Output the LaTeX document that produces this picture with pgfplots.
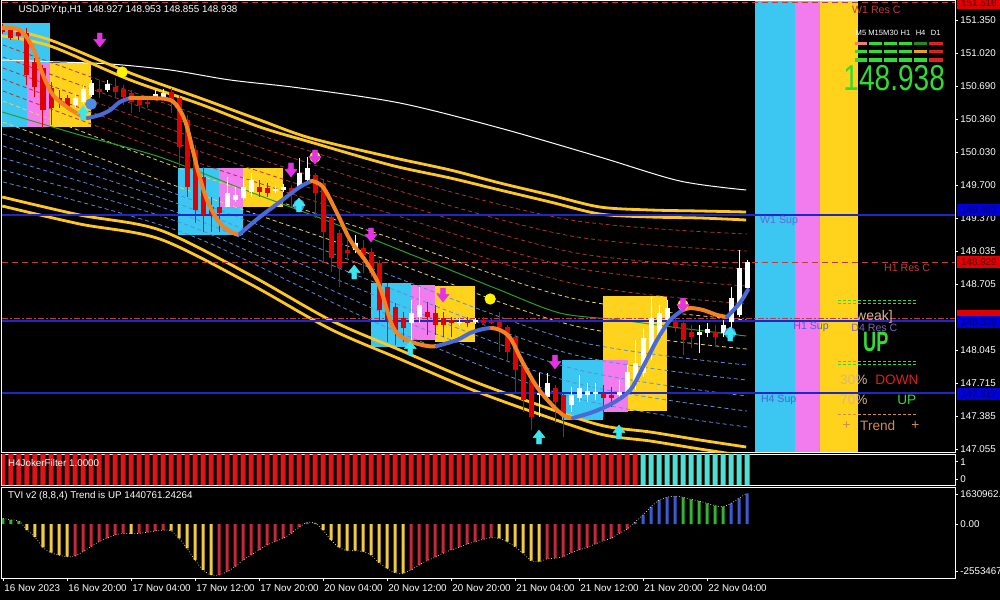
\documentclass[border=0pt]{standalone}
\usepackage{pgfplots}
\pgfplotsset{compat=1.18}
\usepackage{pgfplotstable}
\usepackage{fontspec}
\setmainfont{Liberation Sans}
\usepackage{graphicx}

\definecolor{bcyan}{HTML}{3CC6F2}
\definecolor{bmag}{HTML}{F27CEE}
\definecolor{byel}{HTML}{FFD21C}
\definecolor{cred}{HTML}{E00000}
\definecolor{hmaor}{HTML}{F58220}
\definecolor{hmabl}{HTML}{4A6AD8}
\definecolor{chy}{HTML}{FFC81E}
\definecolor{dred}{HTML}{B03434}
\definecolor{dblu}{HTML}{5A8CD8}
\definecolor{dyel}{HTML}{E6D264}
\definecolor{chgreen}{HTML}{28A028}
\definecolor{hblue}{HTML}{1E28C8}
\definecolor{hred}{HTML}{C03C3C}
\definecolor{arrmag}{HTML}{E632E6}
\definecolor{arrcy}{HTML}{3CE6F0}
\definecolor{dotblue}{HTML}{4A8CE6}
\definecolor{limeg}{HTML}{32DC32}
\definecolor{tanc}{HTML}{D8B48C}
\definecolor{trendc}{HTML}{D28C50}
\definecolor{jred}{HTML}{E01414}
\definecolor{jcyan}{HTML}{50E0D2}
\definecolor{tyel}{HTML}{F0CC3C}
\definecolor{tred}{HTML}{C8283C}
\definecolor{tblue}{HTML}{3C5AD2}
\definecolor{tgreen}{HTML}{32B432}
\definecolor{tline}{HTML}{FFF0B4}
\definecolor{salmonc}{HTML}{F08070}
\definecolor{dkgreen}{HTML}{1E8C1E}
\definecolor{stor}{HTML}{E6A01E}
\definecolor{stred}{HTML}{E02020}
\definecolor{d4c}{HTML}{8264BE}

\newcommand\mt{\fontsize{4.9}{5.5}\selectfont}
\newcommand\mtb{\fontsize{5.3}{6}\selectfont}

% arrow marks with a stem
\pgfdeclareplotmark{darr}{%
  \pgfpathmoveto{\pgfqpoint{-1.2pt}{3.5pt}}%
  \pgfpathlineto{\pgfqpoint{1.2pt}{3.5pt}}%
  \pgfpathlineto{\pgfqpoint{1.2pt}{0.3pt}}%
  \pgfpathlineto{\pgfqpoint{3pt}{0.3pt}}%
  \pgfpathlineto{\pgfqpoint{0pt}{-3.5pt}}%
  \pgfpathlineto{\pgfqpoint{-3pt}{0.3pt}}%
  \pgfpathlineto{\pgfqpoint{-1.2pt}{0.3pt}}%
  \pgfpathclose\pgfusepathqfillstroke}
\pgfdeclareplotmark{uarr}{%
  \pgfpathmoveto{\pgfqpoint{-1.2pt}{-3.5pt}}%
  \pgfpathlineto{\pgfqpoint{1.2pt}{-3.5pt}}%
  \pgfpathlineto{\pgfqpoint{1.2pt}{-0.3pt}}%
  \pgfpathlineto{\pgfqpoint{3pt}{-0.3pt}}%
  \pgfpathlineto{\pgfqpoint{0pt}{3.5pt}}%
  \pgfpathlineto{\pgfqpoint{-3pt}{-0.3pt}}%
  \pgfpathlineto{\pgfqpoint{-1.2pt}{-0.3pt}}%
  \pgfpathclose\pgfusepathqfillstroke}

\pgfplotstableread{
i o h l c
0 151.28 151.31 151.21 151.23
1 151.26 151.28 151.15 151.17
2 151.23 151.25 151.15 151.19
3 151.22 151.27 150.70 150.80
4 150.93 150.97 150.58 150.68
5 150.87 150.90 150.27 150.45
6 150.67 150.73 150.30 150.47
7 150.57 150.65 150.47 150.54
8 150.57 150.60 150.45 150.47
12 150.66 150.75 150.57 150.63
14 150.68 150.77 150.58 150.63
15 150.66 150.70 150.50 150.58
16 150.62 150.65 150.42 150.53
17 150.55 150.59 150.43 150.50
18 150.53 150.56 150.47 150.51
21 150.63 150.67 150.42 150.55
22 150.57 150.60 149.88 150.08
23 150.35 150.40 149.58 149.68
24 150.05 150.10 149.32 149.45
25 149.78 149.88 149.23 149.40
26 149.48 149.58 149.23 149.40
27 149.48 149.58 149.23 149.42
32 149.68 149.75 149.58 149.63
33 149.67 149.72 149.58 149.62
36 149.67 149.70 149.48 149.62
39 149.80 149.82 149.37 149.62
40 149.72 149.75 148.92 149.23
41 149.38 149.40 148.83 148.97
42 149.22 149.25 148.68 148.87
43 149.05 149.15 148.95 149.02
45 149.07 149.15 148.82 149.00
46 149.03 149.07 148.78 148.82
47 148.92 148.95 148.35 148.45
48 148.68 148.72 148.13 148.35
49 148.48 148.52 148.10 148.25
50 148.37 148.43 148.13 148.27
53 148.43 148.53 148.20 148.38
54 148.42 148.50 148.20 148.30
55 148.37 148.43 148.18 148.30
56 148.35 148.38 148.18 148.32
58 148.34 148.38 148.28 148.32
60 148.35 148.38 148.30 148.32
61 148.33 148.37 148.31 148.32
62 148.33 148.43 148.03 148.28
63 148.28 148.30 147.93 148.03
64 148.18 148.20 147.63 147.85
65 147.92 147.95 147.43 147.55
66 147.75 147.80 147.25 147.38
69 147.67 147.70 147.32 147.53
70 147.60 147.63 147.18 147.40
75 147.62 147.70 147.38 147.57
76 147.60 147.68 147.48 147.57
84 148.33 148.38 148.23 148.28
85 148.32 148.33 148.00 148.15
86 148.23 148.30 148.07 148.18
89 148.23 148.30 148.08 148.18
}\bear

\pgfplotstableread{
i o h l c
9 150.50 150.62 150.47 150.57
10 150.53 150.70 150.51 150.66
11 150.60 150.75 150.58 150.72
13 150.65 150.75 150.63 150.71
19 150.58 150.65 150.55 150.61
20 150.58 150.66 150.55 150.62
28 149.48 149.78 149.48 149.62
29 149.55 149.68 149.53 149.60
30 149.57 149.78 149.55 149.68
31 149.63 149.82 149.58 149.75
34 149.64 149.69 149.62 149.66
35 149.65 149.71 149.63 149.68
37 149.68 149.97 149.67 149.82
38 149.75 149.98 149.73 149.87
44 149.05 149.20 149.02 149.12
51 148.32 148.55 148.12 148.42
52 148.38 148.68 148.32 148.50
57 148.32 148.37 148.29 148.33
59 148.33 148.37 148.31 148.35
67 147.60 147.82 147.38 147.62
68 147.58 147.82 147.52 147.72
71 147.50 147.68 147.43 147.60
72 147.57 147.80 147.53 147.67
73 147.60 147.72 147.53 147.64
74 147.61 147.72 147.55 147.63
77 147.60 147.75 147.55 147.63
78 147.63 147.90 147.60 147.83
79 147.72 148.15 147.65 147.92
80 147.82 148.27 147.78 148.17
81 148.05 148.58 147.95 148.37
82 148.18 148.50 148.15 148.42
83 148.35 148.55 148.30 148.47
87 148.20 148.30 148.02 148.23
88 148.22 148.32 148.18 148.26
90 148.22 148.35 148.18 148.30
91 148.33 148.68 148.27 148.57
92 148.40 149.05 148.38 148.87
93 148.67 148.95 148.65 148.93
}\bull

\pgfplotstableread{
i v
0 0.31
1 0.22
2 0.16
3 -0.33
4 -0.72
5 -1.27
6 -1.56
7 -1.69
8 -1.78
9 -1.74
10 -1.50
11 -1.23
12 -0.96
13 -0.78
14 -0.60
15 -0.51
16 -0.54
17 -0.51
18 -0.45
19 -0.38
20 -0.33
21 -0.36
22 -0.78
23 -1.32
24 -1.96
25 -2.50
26 -2.77
27 -2.77
28 -2.59
29 -2.32
30 -1.96
31 -1.69
32 -1.41
33 -1.14
34 -0.96
35 -0.78
36 -0.51
37 -0.18
38 0.08
39 0.05
40 -0.33
41 -0.87
42 -1.27
43 -1.45
44 -1.45
45 -1.50
46 -1.69
47 -2.10
48 -2.41
49 -2.65
50 -2.68
51 -2.50
52 -2.23
53 -1.99
54 -1.81
55 -1.59
56 -1.41
57 -1.27
58 -1.09
59 -0.96
60 -0.83
61 -0.74
62 -0.78
63 -0.96
64 -1.23
65 -1.59
66 -1.99
67 -2.05
68 -1.90
69 -1.86
70 -1.78
71 -1.56
72 -1.41
73 -1.27
74 -1.09
75 -0.91
76 -0.78
77 -0.51
78 -0.29
79 0.10
80 0.49
81 0.94
82 1.30
83 1.45
84 1.52
85 1.45
86 1.34
87 1.25
88 1.12
89 1.00
90 0.94
91 1.12
92 1.40
93 1.67
}\tvi

\pgfplotstableread{
i v
3 -0.33
4 -0.72
5 -1.27
6 -1.56
7 -1.69
8 -1.78
16 -0.54
21 -0.36
22 -0.78
23 -1.32
24 -1.96
25 -2.50
26 -2.77
40 -0.33
41 -0.87
42 -1.27
43 -1.45
44 -1.45
45 -1.50
46 -1.69
47 -2.10
48 -2.41
49 -2.65
50 -2.68
62 -0.78
63 -0.96
64 -1.23
65 -1.59
66 -1.99
67 -2.05
}\tviyel

\pgfplotstableread{
i v
9 -1.74
10 -1.50
11 -1.23
12 -0.96
13 -0.78
14 -0.60
15 -0.51
17 -0.51
18 -0.45
19 -0.38
20 -0.33
27 -2.77
28 -2.59
29 -2.32
30 -1.96
31 -1.69
32 -1.41
33 -1.14
34 -0.96
35 -0.78
36 -0.51
37 -0.18
51 -2.50
52 -2.23
53 -1.99
54 -1.81
55 -1.59
56 -1.41
57 -1.27
58 -1.09
59 -0.96
60 -0.83
61 -0.74
68 -1.90
69 -1.86
70 -1.78
71 -1.56
72 -1.41
73 -1.27
74 -1.09
75 -0.91
76 -0.78
77 -0.51
78 -0.29
}\tvired

\pgfplotstableread{
i v
38 0.08
79 0.10
80 0.49
81 0.94
82 1.30
83 1.45
84 1.52
91 1.12
92 1.40
93 1.67
}\tviblue

\pgfplotstableread{
i v
0 0.31
1 0.22
2 0.16
39 0.05
85 1.45
86 1.34
87 1.25
88 1.12
89 1.00
90 0.94
}\tvigreen

\newcommand\sbar[5]{\fill[#5] (axis cs:#1,#3) rectangle (axis cs:#2,#4);}

\begin{document}
\begin{tikzpicture}
\useasboundingbox (0,0) rectangle (500pt,300pt);
\fill[black] (0,0) rectangle (500pt,300pt);

% ================= MAIN PRICE PANEL =================
\begin{axis}[
  at={(1pt,74pt)}, anchor=south west, scale only axis,
  width=476.5pt, height=225.5pt,
  xmin=-0.125, xmax=119, ymin=147.03, ymax=151.54,
  axis line style={white, line width=0.5pt},
  xtick=\empty,
  ytick={147.055,147.385,147.715,148.045,148.705,149.035,149.370,149.700,150.030,150.360,150.690,151.020,151.350},
  yticklabels={147.055,147.385,147.715,148.045,148.705,149.035,149.370,149.700,150.030,150.360,150.690,151.020,151.350},
  ytick pos=right, yticklabel pos=right,
  tick align=outside, major tick length=1.5pt,
  tick style={white, line width=0.4pt},
  yticklabel style={white, font=\mt, inner sep=1pt},
  clip mode=individual,
]
% right-hand colour bands
\fill[bcyan] (axis cs:94,147.03) rectangle (axis cs:99,151.54);
\fill[bmag] (axis cs:99,147.03) rectangle (axis cs:102.1,151.54);
\fill[byel] (axis cs:102.1,147.03) rectangle (axis cs:106.9,151.54);
% zone boxes
\fill[bcyan] (axis cs:-0.125,150.28) rectangle (axis cs:5.9,151.32);
\fill[bmag] (axis cs:3,150.28) rectangle (axis cs:5.9,150.92);
\fill[byel] (axis cs:5.9,150.28) rectangle (axis cs:11,150.92);
\fill[bcyan] (axis cs:21.9,149.20) rectangle (axis cs:30,149.87);
\fill[bmag] (axis cs:27,149.48) rectangle (axis cs:30,149.87);
\fill[byel] (axis cs:30,149.48) rectangle (axis cs:35,149.87);
\fill[bcyan] (axis cs:46,148.08) rectangle (axis cs:51,148.72);
\fill[bmag] (axis cs:51,148.15) rectangle (axis cs:54,148.70);
\fill[byel] (axis cs:54,148.13) rectangle (axis cs:59,148.69);
\fill[byel] (axis cs:75,147.44) rectangle (axis cs:83,148.59);
\fill[bcyan] (axis cs:69.9,147.35) rectangle (axis cs:75,147.95);
\fill[bmag] (axis cs:75,147.43) rectangle (axis cs:78.1,147.95);

% dashed channel lines
\pgfplotsset{dl/.style={line width=0.4pt, smooth, dash pattern=on 2pt off 1.5pt}}
\addplot[dl, dred] coordinates {(0,151.10)(23,150.44)(47,149.83)(71,149.35)(93,149.21)};
\addplot[dl, dred] coordinates {(0,150.98)(23,150.32)(47,149.70)(71,149.19)(93,149.04)};
\addplot[dl, dred] coordinates {(0,150.87)(23,150.20)(47,149.58)(71,149.03)(93,148.86)};
\addplot[dl, dred] coordinates {(0,150.76)(23,150.08)(47,149.45)(71,148.88)(93,148.69)};
\addplot[dl, dred] coordinates {(0,150.64)(23,149.96)(47,149.33)(71,148.72)(93,148.51)};
\addplot[dl, dyel] coordinates {(0,150.54)(23,149.84)(47,149.21)(71,148.57)(93,148.35)};
\addplot[dl, dyel] coordinates {(0,150.33)(23,149.65)(47,148.98)(71,148.30)(93,148.06)};
\addplot[dl, dblu] coordinates {(0,150.21)(23,149.57)(47,148.84)(71,148.15)(93,147.90)};
\addplot[dl, dblu] coordinates {(0,150.09)(23,149.48)(47,148.71)(71,148.01)(93,147.75)};
\addplot[dl, dblu] coordinates {(0,149.97)(23,149.39)(47,148.58)(71,147.87)(93,147.59)};
\addplot[dl, dblu] coordinates {(0,149.85)(23,149.30)(47,148.44)(71,147.73)(93,147.44)};
\addplot[dl, dblu] coordinates {(0,149.73)(23,149.21)(47,148.31)(71,147.58)(93,147.28)};

% white, green and yellow channel lines
\addplot[white, line width=0.5pt, smooth] coordinates {(-0.1,150.95)(7.1,150.93)(13.4,150.91)(20.9,150.85)(28.4,150.75)(37.1,150.67)(49.6,150.52)(62.1,150.27)(74.6,149.98)(84.6,149.74)(92.9,149.65)};
\addplot[chgreen, line width=0.5pt, smooth] coordinates {(-0.1,150.43)(9.6,150.20)(19.6,149.98)(30.9,149.63)(40.9,149.33)(49.6,149.05)(55.9,148.85)(62.1,148.65)(69.6,148.42)(77.1,148.35)(84.6,148.27)(92.9,148.19)};
\addplot[chy, line width=1.4pt, smooth] coordinates {(-0.1,151.27)(5.9,151.15)(15.9,150.82)(24.6,150.57)(32.1,150.35)(38.4,150.17)(48.4,149.98)(55.9,149.85)(62.1,149.72)(68.4,149.60)(74.6,149.48)(80.9,149.45)(87.1,149.44)(92.9,149.43)};
\addplot[chy, line width=1.4pt, smooth] coordinates {(-0.1,151.19)(5.9,151.09)(15.9,150.75)(24.6,150.51)(32.1,150.28)(38.4,150.13)(48.4,149.90)(55.9,149.77)(62.1,149.65)(68.4,149.53)(74.6,149.41)(80.9,149.38)(87.1,149.37)(92.9,149.35)};
\addplot[chy, line width=1.4pt, smooth] coordinates {(-0.1,149.58)(9.6,149.40)(19.6,149.25)(30.9,148.80)(40.9,148.35)(49.6,148.05)(58.4,147.75)(65.9,147.53)(74.6,147.30)(80.9,147.23)(87.1,147.15)(92.9,147.08)};
\addplot[chy, line width=1.4pt, smooth] coordinates {(-0.1,149.49)(9.6,149.31)(19.6,149.16)(30.9,148.71)(40.9,148.26)(49.6,147.96)(58.4,147.66)(65.9,147.44)(74.6,147.21)(80.9,147.14)(87.1,147.06)(92.9,146.99)};

% horizontal support / resistance lines
\addplot[hred, line width=0.5pt, dash pattern=on 3pt off 2pt] coordinates {(-0.125,151.52)(119,151.52)};
\addplot[hblue, line width=0.6pt] coordinates {(-0.125,149.40)(119,149.40)};
\addplot[hred, line width=0.5pt, dash pattern=on 3pt off 2pt] coordinates {(-0.125,148.93)(119,148.93)};
\addplot[hred, line width=0.5pt, dash pattern=on 3pt off 1pt on 1pt off 1pt] coordinates {(-0.125,148.37)(119,148.37)};
\addplot[hblue, line width=0.6pt] coordinates {(-0.125,148.34)(119,148.34)};
\addplot[hblue, line width=0.6pt] coordinates {(-0.125,147.62)(119,147.62)};

% candles: wicks and bodies
\addplot[cred, line width=0.5pt, quiver={u=0, v=\thisrow{h}-\thisrow{l}}] table[x=i, y=l] {\bear};
\addplot[cred, line width=2.5pt, quiver={u=0, v=\thisrow{o}-\thisrow{c}}] table[x=i, y=c] {\bear};
\addplot[white, line width=0.5pt, quiver={u=0, v=\thisrow{h}-\thisrow{l}}] table[x=i, y=l] {\bull};
\addplot[white, line width=2.5pt, quiver={u=0, v=\thisrow{c}-\thisrow{o}}] table[x=i, y=o] {\bull};

% smoothed trend line (orange falling, blue rising)
\pgfplotsset{hma/.style={line width=2pt, smooth, tension=0.55, line cap=round}}
\addplot[hma, hmaor] coordinates {(0,151.27)(2.1,151.25)(3.75,151.07)(5,150.80)(6.25,150.60)(8,150.48)(9.6,150.40)(10.6,150.37)};
\addplot[hma, hmabl] coordinates {(10.6,150.37)(12.1,150.40)(13.4,150.45)(14.6,150.53)(15.9,150.57)};
\addplot[hma, hmaor] coordinates {(15.9,150.57)(18.4,150.57)(20.9,150.55)(22.1,150.45)(23,150.28)(24.25,149.88)(25.5,149.55)(27.1,149.32)(28.75,149.22)(29.6,149.21)};
\addplot[hma, hmabl] coordinates {(29.6,149.21)(32.1,149.38)(34.6,149.53)(37.1,149.68)(38.6,149.74)};
\addplot[hma, hmaor] coordinates {(38.6,149.74)(40,149.68)(41.75,149.42)(43.4,149.15)(45.5,148.92)(47.1,148.68)(48.75,148.28)(50.5,148.15)(53,148.09)(54.25,148.09)};
\addplot[hma, hmabl] coordinates {(54.25,148.09)(56.75,148.15)(58.4,148.22)(60,148.26)(61.1,148.27)};
\addplot[hma, hmaor] coordinates {(61.1,148.27)(62.1,148.25)(63.4,148.17)(65,147.92)(66.75,147.68)(68.4,147.52)(70,147.40)(71.25,147.37)};
\addplot[hma, hmabl] coordinates {(71.25,147.37)(73.75,147.43)(76.25,147.52)(78.4,147.65)(80,147.88)(81.75,148.15)(83.4,148.35)(85,148.45)};
\addplot[hma, hmaor] coordinates {(85,148.45)(85.9,148.47)(87.5,148.45)(89.25,148.40)(90.5,148.38)};
\addplot[hma, hmabl] coordinates {(90.5,148.38)(92.1,148.52)(93.1,148.65)};

% signal dots and arrows
\addplot[only marks, mark=*, mark size=2.6pt, mark options={fill=yellow, draw=yellow}] coordinates {(14.9,150.83)(60.9,148.56)(39,149.98)(85,148.50)};
\addplot[only marks, mark=*, mark size=2.7pt, mark options={fill=dotblue, draw=dotblue}] coordinates {(11,150.51)(37,149.50)(90.9,148.22)};
\addplot[only marks, mark=darr, mark options={fill=arrmag, draw=arrmag, line width=0.2pt}] coordinates {(12.1,151.15)(36,149.85)(39,149.98)(46,149.20)(55,148.60)(69,147.93)(85,148.50)};
\addplot[only marks, mark=uarr, mark options={fill=arrcy, draw=arrcy, line width=0.2pt}] coordinates {(10,150.42)(37,149.50)(43.9,148.83)(50.9,148.07)(67,147.18)(77,147.23)(90.9,148.21)};

% header text
\node[anchor=west, text=white, font=\mt, inner sep=0] at (axis cs:1.9,151.45) {USDJPY.tp,H1\ \ 148.927 148.953 148.855 148.938};

% object labels
\node[anchor=west, text=hred, font=\mtb, inner sep=0] at (axis cs:106.1,151.45) {W1 Res C};
\node[anchor=west, text=hblue!70!white, font=\mtb, inner sep=0] at (axis cs:94.6,149.34) {W1 Sup};
\node[anchor=west, text=hred, font=\mtb, inner sep=0] at (axis cs:110.1,148.87) {H1 Res C};
\node[anchor=west, text=hblue!75!white, font=\mtb, inner sep=0] at (axis cs:98.75,148.28) {H1 Sup};
\node[anchor=west, text=hblue!75!white, font=\mtb, inner sep=0] at (axis cs:94.7,147.55) {H4 Sup};
\node[anchor=west, text=d4c, font=\mtb, inner sep=0] at (axis cs:106,148.27) {D4 Res C};
\node[anchor=west, text=tanc, font=\fontsize{7}{7}\selectfont, inner sep=0] at (axis cs:106.6,148.38) {weak]};

% status table
\node[text=white, font=\fontsize{3.8}{4.5}\selectfont, inner sep=0] at (axis cs:107.25,151.22) {M5};
\node[text=white, font=\fontsize{3.8}{4.5}\selectfont, inner sep=0] at (axis cs:109.1,151.22) {M15};
\node[text=white, font=\fontsize{3.8}{4.5}\selectfont, inner sep=0] at (axis cs:110.95,151.22) {M30};
\node[text=white, font=\fontsize{3.8}{4.5}\selectfont, inner sep=0] at (axis cs:112.8,151.22) {H1};
\node[text=white, font=\fontsize{3.8}{4.5}\selectfont, inner sep=0] at (axis cs:114.7,151.22) {H4};
\node[text=white, font=\fontsize{3.8}{4.5}\selectfont, inner sep=0] at (axis cs:116.6,151.22) {D1};
\sbar{106.5}{108}{151.10}{151.13}{salmonc}
\sbar{108.25}{109.9}{151.10}{151.13}{limeg}
\sbar{110.1}{111.75}{151.10}{151.13}{limeg}
\sbar{112}{113.6}{151.10}{151.13}{limeg}
\sbar{113.9}{115.5}{151.10}{151.13}{dkgreen}
\sbar{115.75}{117.5}{151.10}{151.13}{stred}
\sbar{106.5}{108}{151.02}{151.05}{limeg}
\sbar{108.25}{109.9}{151.02}{151.05}{limeg}
\sbar{110.1}{111.75}{151.02}{151.05}{limeg}
\sbar{112}{113.6}{151.02}{151.05}{limeg}
\sbar{113.9}{115.5}{151.02}{151.05}{stor}
\sbar{115.75}{117.5}{151.02}{151.05}{stred}
\sbar{106.5}{108}{150.93}{150.97}{limeg}
\sbar{108.25}{109.9}{150.93}{150.97}{limeg}
\sbar{110.1}{111.75}{150.93}{150.97}{limeg}
\sbar{112}{113.6}{150.93}{150.97}{limeg}
\sbar{113.9}{115.5}{150.93}{150.97}{limeg}
\sbar{115.75}{117.5}{150.93}{150.97}{stred}
\node[text=limeg, inner sep=0] at (axis cs:111.4,150.77) {\scalebox{0.78}[1]{\fontsize{18}{18}\selectfont 148.938}};

% trend info block
\draw[limeg, line width=0.4pt, dash pattern=on 1.5pt off 1pt] (axis cs:104.4,148.55) -- (axis cs:114.1,148.55);
\draw[limeg, line width=0.4pt, dash pattern=on 1.5pt off 1pt] (axis cs:104.4,148.52) -- (axis cs:114.1,148.52);
\draw[limeg, line width=0.4pt, dash pattern=on 1.5pt off 1pt] (axis cs:104.4,147.94) -- (axis cs:114.1,147.94);
\draw[limeg, line width=0.4pt, dash pattern=on 1.5pt off 1pt] (axis cs:104.4,147.91) -- (axis cs:114.1,147.91);
\draw[trendc, line width=0.4pt, dash pattern=on 1.5pt off 1pt] (axis cs:104.4,147.41) -- (axis cs:114.1,147.41);
\node[text=limeg, inner sep=0] at (axis cs:109.1,148.13) {\scalebox{0.65}[1]{\bfseries\fontsize{14}{14}\selectfont UP}};
\node[anchor=west, text=tanc, font=\fontsize{6.8}{7}\selectfont, inner sep=0] at (axis cs:104.6,147.75) {30\%};
\node[anchor=west, text=stred, font=\fontsize{6.8}{7}\selectfont, inner sep=0] at (axis cs:109,147.75) {DOWN};
\node[anchor=west, text=tanc, font=\fontsize{6.8}{7}\selectfont, inner sep=0] at (axis cs:104.6,147.55) {70\%};
\node[anchor=west, text=limeg, font=\fontsize{6.8}{7}\selectfont, inner sep=0] at (axis cs:111.75,147.55) {UP};
\node[anchor=west, text=trendc, font=\fontsize{6.8}{7}\selectfont, inner sep=0] at (axis cs:104.9,147.29) {+};
\node[anchor=west, text=trendc, font=\fontsize{6.8}{7}\selectfont, inner sep=0] at (axis cs:107.1,147.29) {Trend};
\node[anchor=west, text=trendc, font=\fontsize{6.8}{7}\selectfont, inner sep=0] at (axis cs:113.5,147.29) {+};

\coordinate (P1) at (axis cs:119,151.515);
\coordinate (P2) at (axis cs:119,149.45);
\coordinate (P3) at (axis cs:119,148.93);
\coordinate (P4) at (axis cs:119,148.37);
\coordinate (P5) at (axis cs:119,148.33);
\coordinate (P6) at (axis cs:119,147.61);
\end{axis}

\tikzset{pl/.style={anchor=west, inner sep=0pt, minimum width=21.5pt, minimum height=5.6pt, font=\mt}}
\node[pl, fill=red!88!black, text=red!35!black] at ([xshift=1pt]P1) {151.516};
\node[pl, fill=blue!85!black, text=blue!45!black] at ([xshift=1pt]P2) {149.483};
\node[pl, fill=red!88!black, text=red!35!black] at ([xshift=1pt]P3) {148.929};
\node[pl, fill=red!88!black, text=red!35!black] at ([xshift=1pt,yshift=1.2pt]P4) {};
\node[pl, fill=blue!85!black, text=blue!45!black] at ([xshift=1pt]P5) {148.339};
\node[pl, fill=blue!85!black, text=blue!45!black] at ([xshift=1pt]P6) {147.617};

% ================= H4 JOKER FILTER PANEL =================
\begin{axis}[
  at={(1pt,57.5pt)}, anchor=south west, scale only axis,
  width=476.5pt, height=15.5pt,
  xmin=-0.125, xmax=119, ymin=0, ymax=1,
  axis line style={white, line width=0.5pt},
  xtick=\empty,
  ytick={0.19,0.75}, yticklabels={0,1},
  ytick pos=right, yticklabel pos=right,
  tick align=outside, major tick length=1.5pt,
  tick style={white, line width=0.4pt},
  yticklabel style={white, font=\mt, inner sep=1pt},
  clip mode=individual,
]
\addplot[ybar, bar width=0.625, bar shift=0pt, fill=jred, draw=none] coordinates {
(0,1)(1,1)(2,1)(3,1)(4,1)(5,1)(6,1)(7,1)(8,1)(9,1)(10,1)(11,1)(12,1)(13,1)(14,1)(15,1)(16,1)(17,1)(18,1)(19,1)
(20,1)(21,1)(22,1)(23,1)(24,1)(25,1)(26,1)(27,1)(28,1)(29,1)(30,1)(31,1)(32,1)(33,1)(34,1)(35,1)(36,1)(37,1)(38,1)(39,1)
(40,1)(41,1)(42,1)(43,1)(44,1)(45,1)(46,1)(47,1)(48,1)(49,1)(50,1)(51,1)(52,1)(53,1)(54,1)(55,1)(56,1)(57,1)(58,1)(59,1)
(60,1)(61,1)(62,1)(63,1)(64,1)(65,1)(66,1)(67,1)(68,1)(69,1)(70,1)(71,1)(72,1)(73,1)(74,1)(75,1)(76,1)(77,1)(78,1)(79,1)};
\addplot[ybar, bar width=0.625, bar shift=0pt, fill=jcyan, draw=none] coordinates {
(80,1)(81,1)(82,1)(83,1)(84,1)(85,1)(86,1)(87,1)(88,1)(89,1)(90,1)(91,1)(92,1)(93,1)};
\node[anchor=west, text=white, font=\mt, inner sep=0] at (axis cs:0.6,0.71) {H4JokerFilter 1.0000};
\end{axis}

% ================= TVI PANEL =================
\begin{axis}[
  at={(1pt,11pt)}, anchor=south west, scale only axis,
  width=476.5pt, height=45.5pt,
  xmin=-0.125, xmax=119, ymin=-2.936, ymax=2.0115,
  axis line style={white, line width=0.5pt},
  xtick={0,8,16,24,32,40,48,56,64,72,80,88},
  xticklabels={16 Nov 2023,16 Nov 20:00,17 Nov 04:00,17 Nov 12:00,17 Nov 20:00,20 Nov 04:00,20 Nov 12:00,20 Nov 20:00,21 Nov 04:00,21 Nov 12:00,21 Nov 20:00,22 Nov 04:00},
  xtick pos=bottom,
  xticklabel style={white, font=\mt, anchor=north west, inner sep=0.5pt, yshift=-1pt},
  ytick={-2.5534671,0,1.6309626}, yticklabels={-2553467.1,0.00,1630962.6},
  ytick pos=right, yticklabel pos=right,
  tick align=outside, major tick length=1.5pt,
  tick style={white, line width=0.4pt},
  yticklabel style={white, font=\mt, inner sep=1pt},
  clip mode=individual,
]
\addplot[ybar, bar width=0.375, bar shift=0pt, fill=tyel, draw=none] table[x=i, y=v] {\tviyel};
\addplot[ybar, bar width=0.375, bar shift=0pt, fill=tred, draw=none] table[x=i, y=v] {\tvired};
\addplot[ybar, bar width=0.375, bar shift=0pt, fill=tblue, draw=none] table[x=i, y=v] {\tviblue};
\addplot[ybar, bar width=0.375, bar shift=0pt, fill=tgreen, draw=none] table[x=i, y=v] {\tvigreen};
\addplot[tline, line width=0.35pt, densely dotted, smooth] table[x=i, y=v] {\tvi};
\node[anchor=west, text=white, font=\mt, inner sep=0] at (axis cs:0.6,1.52) {TVI v2 (8,8,4) Trend is UP 1440761.24264};
\end{axis}
\end{tikzpicture}
\end{document}
